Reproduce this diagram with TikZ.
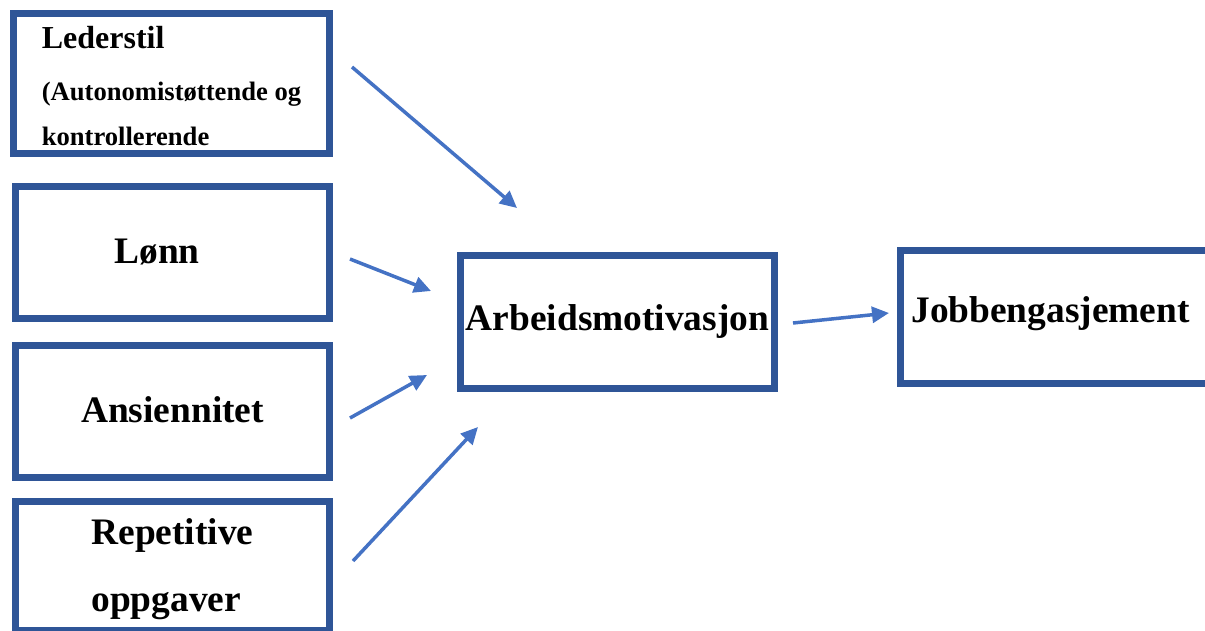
\documentclass[tikz,border=0pt]{standalone}
\usepackage{fontspec}
\setmainfont{Liberation Serif}
\usetikzlibrary{arrows.meta}
\definecolor{boxblue}{HTML}{2F5597}
\definecolor{arrowblue}{HTML}{4472C4}
\tikzset{
  factor/.style={draw=boxblue,line width=7.5pt,rectangle,inner sep=0pt,outer sep=0pt,
    minimum width=314pt,minimum height=132pt,font=\bfseries\fontsize{37.4}{47}\selectfont},
  effect/.style={draw=arrowblue,line width=3.5pt,-{Triangle[length=17pt,width=16pt]}}
}
\begin{document}
\begin{tikzpicture}[x=1pt,y=-1pt]
    \useasboundingbox (0,0) rectangle (1205,630);
    \clip (0,0) rectangle (1205,630);

    \node[factor,minimum width=316pt,minimum height=140pt,align=left,text height=125pt,text depth=2pt,
      font=\bfseries\fontsize{26.6}{45}\selectfont] (leder) at (171.5,83.5)
      {{\fontsize{32}{45}\selectfont Lederstil}\\[7pt](Autonomistøttende og\\kontrollerende};
    \node[factor,text height=26pt,text depth=5pt] (lonn) at (172.5,252.5){Lønn\rule{31pt}{0pt}};
    \node[factor,text height=26pt,text depth=5pt] (ansi) at (172.5,411.5){Ansiennitet};
    \node[factor,minimum height=129pt,align=left,text height=94pt,text depth=4pt,
      font=\bfseries\fontsize{37.4}{67}\selectfont] (rep) at (172.5,566){Repetitive\\oppgaver};

    \node[factor,minimum height=133pt,text height=24pt,text depth=8pt] (motiv) at (617.5,322){Arbeidsmotivasjon};
    \node[factor,minimum height=133pt,text height=21pt,text depth=11pt] (jobb) at (1057.5,317){Jobbengasjement\rule{14pt}{0pt}};

    \coordinate (leder-out) at (352,67);   \coordinate (motiv-in1) at (517,208);
    \coordinate (lonn-out) at (350,259);   \coordinate (motiv-in2) at (431,291);
    \coordinate (ansi-out) at (350,418);   \coordinate (motiv-in3) at (427,375);
    \coordinate (rep-out) at (353,561);    \coordinate (motiv-in4) at (478,427);
    \coordinate (motiv-out) at (793,323);  \coordinate (jobb-in) at (889,313);

    \draw[effect] (leder-out) -- (motiv-in1);
    \draw[effect] (lonn-out) -- (motiv-in2);
    \draw[effect] (ansi-out) -- (motiv-in3);
    \draw[effect] (rep-out) -- (motiv-in4);
    \draw[effect] (motiv-out) -- (jobb-in);
\end{tikzpicture}
\end{document}
